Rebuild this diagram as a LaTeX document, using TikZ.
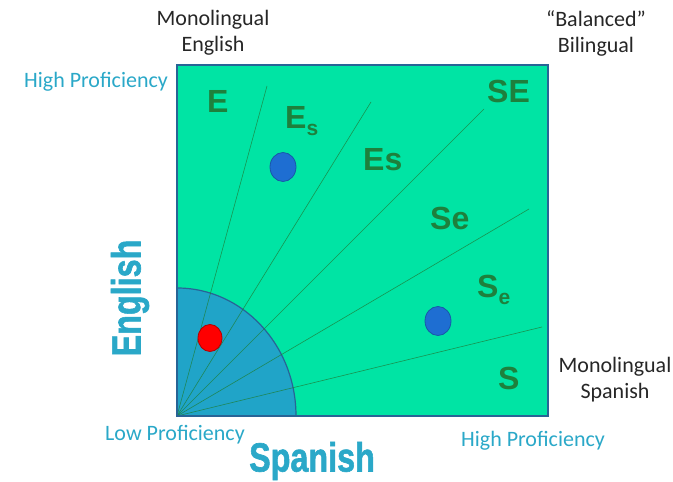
\documentclass[tikz,border=0pt]{standalone}
\usepackage{fontspec}
\setmainfont{Carlito}
\newfontfamily\zonefont{Liberation Sans}
\newfontfamily\axisfont{Liberation Sans}[BoldFeatures={FakeBold=1.6}]
\usetikzlibrary{shapes.geometric, positioning, calc}
\definecolor{zonegreen}{RGB}{0,228,164}
\definecolor{zonedark}{RGB}{30,128,60}
\definecolor{quartblue}{RGB}{32,164,200}
\definecolor{frameblue}{RGB}{40,100,150}
\definecolor{tealtext}{RGB}{42,168,200}
\definecolor{dotblue}{RGB}{30,110,210}
\tikzstyle{zone} = [font=\zonefont\bfseries\fontsize{32}{32}\selectfont, text=zonedark, inner sep=0pt, anchor=base west]
\tikzstyle{corner} = [font=\fontsize{22}{26}\selectfont, align=center, text=black!85]
\tikzstyle{level} = [font=\fontsize{22}{26}\selectfont, text=tealtext]
\tikzstyle{axis} = [font=\axisfont\bfseries\fontsize{34}{34}\selectfont, text=tealtext, inner sep=0pt]
\tikzstyle{ray} = [draw=zonedark, line width=0.6pt, opacity=0.8]
\tikzstyle{dot} = [shape=ellipse, draw, line width=0.8pt, inner sep=0pt]
\newcommand{\tall}[1]{\scalebox{0.95}[1.2]{#1}}
\newcommand{\lowsub}[1]{\raisebox{-7pt}{\fontsize{21}{21}\selectfont #1}}

\begin{document}
\begin{tikzpicture}[x=1pt, y=1pt]
    \useasboundingbox (0,0) rectangle (673,482);
    % the square and the low corner
    \coordinate (o) at (177,66);
    \coordinate (ne) at (548,417);
    \fill [zonegreen] (o) rectangle (ne);
    \fill [quartblue] (o) -- ++(119,0) arc [start angle=0, end angle=90, x radius=119, y radius=128] -- cycle;
    \draw [frameblue, line width=1.2pt] ($(o)+(119,0)$) arc [start angle=0, end angle=90, x radius=119, y radius=128];
    % rays
    \coordinate (r1) at (267,396);
    \coordinate (r2) at (371,380);
    \coordinate (r3) at (484,373);
    \coordinate (r4) at (529,273);
    \coordinate (r5) at (542,155);
    \foreach \r in {r1,r2,r3,r4,r5}
        \draw [ray] (o) -- (\r);
    \draw [frameblue, line width=1.5pt] (o) rectangle (ne);
    % zone labels
    \node [zone] (e) at (207,369) {E};
    \node [zone] (eS) at (285,353) {E\lowsub{s}};
    \node [zone] (es) at (363,311) {Es};
    \node [zone] (se) at (487,379) {SE};
    \node [zone] (sE) at (430,252) {Se};
    \node [zone] (sEe) at (477,184) {S\lowsub{e}};
    \node [zone] (s) at (498,92) {S};
    % speakers
    \node [dot, fill=dotblue, draw=dotblue!80!black, minimum width=26, minimum height=29] (p1) at (283,315) {};
    \node [dot, fill=dotblue, draw=dotblue!80!black, minimum width=26, minimum height=29] (p2) at (438,161) {};
    \node [dot, fill=red, draw=red!70!black, minimum width=24, minimum height=27] (p3) at (210,144) {};
    % outside texts
    \node [corner] (monoE) at (213,449) {Monolingual\\English};
    \node [corner] (bal) at (596,449) {“Balanced”\\Bilingual};
    \node [corner] (monoS) at (615,102) {Monolingual\\Spanish};
    \node [level] (hiE) at (96,400) {High Proficiency};
    \node [level] (lo) at (175,47) {Low Proficiency};
    \node [level] (hiS) at (533,41) {High Proficiency};
    \node [axis, rotate=90] (eng) at (130,184) {\tall{English}};
    \node [axis] (spa) at (312,21) {\tall{Spanish}};
\end{tikzpicture}
\end{document}
